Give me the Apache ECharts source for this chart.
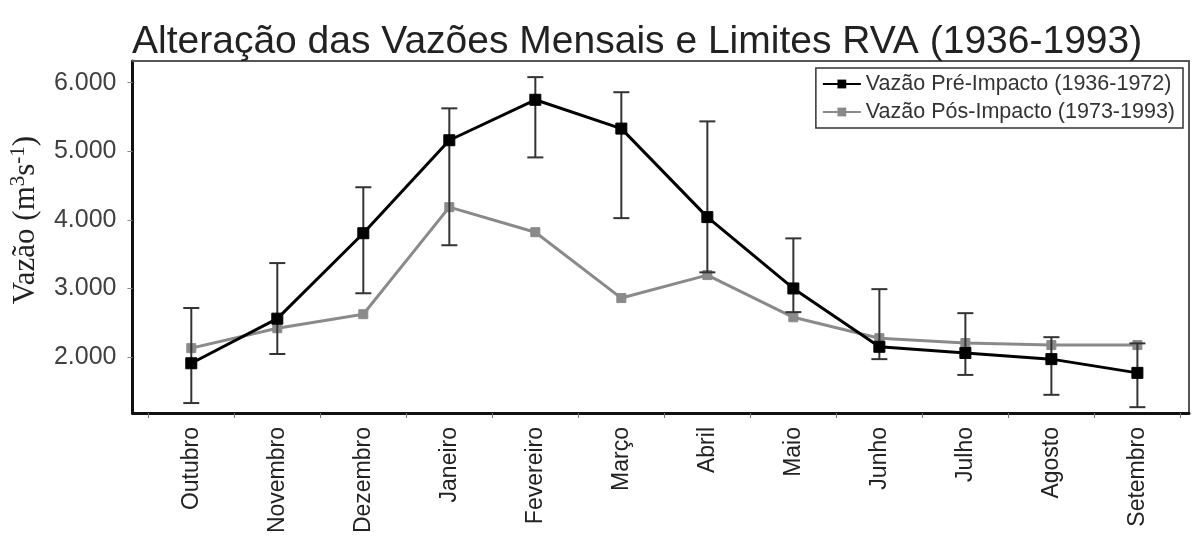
<!DOCTYPE html>
<html>
<head>
<meta charset="utf-8">
<script src="https://cdn.jsdelivr.net/npm/echarts@6/dist/echarts.min.js"></script>
<style>
html,body{margin:0;padding:0;background:#fff;}
#chart{width:1193px;height:540px;}
</style>
</head>
<body>
<div id="chart"></div>
<script>
const months = ['Outubro','Novembro','Dezembro','Janeiro','Fevereiro','Março','Abril','Maio','Junho','Julho','Agosto','Setembro'];
const preImpacto = [1910, 2560, 3805, 5160, 5750, 5330, 4040, 3000, 2150, 2060, 1970, 1770];
const posImpacto = [2130, 2420, 2625, 4185, 3820, 2860, 3195, 2580, 2275, 2205, 2175, 2175];
const limiteSuperior = [2715, 3370, 4475, 5625, 6080, 5860, 5435, 3730, 2990, 2640, 2290, 2200];
const limiteInferior = [1330, 2045, 2930, 3630, 4910, 4025, 3235, 2655, 1970, 1740, 1450, 1270];
const yTicks = [2000, 3000, 4000, 5000, 6000];

const monthIdx = months.map((m, i) => i);
const catTicks = months.map((m, i) => i - 0.5).concat([months.length - 0.5]);

const chart = echarts.init(document.getElementById('chart'));
const font = 'Arial, "Liberation Sans", Helvetica, sans-serif';
const serif = '"Liberation Serif", "Times New Roman", serif';

chart.setOption({
  animation: false,
  backgroundColor: '#fff',
  title: {
    text: 'Alteração das Vazões Mensais e Limites RVA (1936-1993)',
    left: 127, top: 18,
    textStyle: { fontFamily: font, fontSize: 39, fontWeight: 'normal', color: '#222' }
  },
  legend: {
    orient: 'vertical',
    right: 10, top: 68,
    backgroundColor: '#fff',
    borderColor: '#333', borderWidth: 1.5,
    padding: [5, 8, 5, 6],
    itemGap: 6,
    itemWidth: 38, itemHeight: 11,
    textStyle: { fontFamily: font, fontSize: 21.5, color: '#333' },
    data: ['Vazão Pré-Impacto (1936-1972)', 'Vazão Pós-Impacto (1973-1993)']
  },
  grid: { left: 130, right: 4, top: 61, bottom: 127 },
  xAxis: [{
    type: 'value',
    min: -0.684, max: 11.6,
    axisLine: { show: true, onZero: false, lineStyle: { color: '#111', width: 3 } },
    splitLine: { show: false },
    axisTick: { show: true, length: 5, customValues: catTicks, lineStyle: { color: '#777', width: 1 } },
    axisLabel: {
      customValues: monthIdx,
      rotate: 90,
      margin: 14,
      fontFamily: font, fontSize: 23, color: '#222',
      formatter: v => months[Math.round(v)]
    }
  }, {
    type: 'value', position: 'top',
    min: -0.684, max: 11.6,
    axisLine: { show: true, onZero: false, lineStyle: { color: '#555', width: 2 } },
    axisTick: { show: false }, axisLabel: { show: false }, splitLine: { show: false }
  }],
  yAxis: [{
    type: 'value',
    min: 1185, max: 6315,
    name: '{a|Vazão (m}{s|3}{a|s}{s|-1}{a|)}',
    nameLocation: 'middle',
    nameGap: 86,
    nameTextStyle: {
      padding: [0, 0, 0, 34],
      rich: {
        a: { fontFamily: serif, fontSize: 31, color: '#222', lineHeight: 38 },
        s: { fontFamily: serif, fontSize: 21, color: '#222', lineHeight: 38, padding: [0, 0, 14, 0] }
      }
    },
    axisLine: { show: true, onZero: false, lineStyle: { color: '#111', width: 3 } },
    splitLine: { show: false },
    axisTick: { show: true, length: 5, customValues: yTicks, lineStyle: { color: '#888', width: 1 } },
    axisLabel: {
      customValues: yTicks,
      margin: 16,
      fontFamily: font, fontSize: 25, color: '#404040',
      formatter: v => (v / 1000) + '.000'
    }
  }, {
    type: 'value', position: 'right',
    min: 1185, max: 6315,
    axisLine: { show: true, onZero: false, lineStyle: { color: '#555', width: 2 } },
    axisTick: { show: false }, axisLabel: { show: false }, splitLine: { show: false }
  }],
  series: [{
    name: 'Vazão Pós-Impacto (1973-1993)',
    type: 'line',
    data: posImpacto.map((v, i) => [i, v]),
    symbol: 'rect', symbolSize: 9,
    lineStyle: { color: '#8a8a8a', width: 3 },
    itemStyle: { color: '#8a8a8a', borderColor: '#8a8a8a' },
    z: 2
  }, {
    name: 'Limites RVA',
    type: 'custom',
    data: limiteSuperior.map((v, i) => [i, v, limiteInferior[i]]),
    renderItem: function (params, api) {
      const top = api.coord([api.value(0), api.value(1)]);
      const bot = api.coord([api.value(0), api.value(2)]);
      const hw = 8;
      const style = { stroke: '#333', lineWidth: 2 };
      return {
        type: 'group',
        children: [
          { type: 'line', shape: { x1: top[0], y1: top[1], x2: bot[0], y2: bot[1] }, style: style },
          { type: 'line', shape: { x1: top[0] - hw, y1: top[1], x2: top[0] + hw, y2: top[1] }, style: style },
          { type: 'line', shape: { x1: bot[0] - hw, y1: bot[1], x2: bot[0] + hw, y2: bot[1] }, style: style }
        ]
      };
    },
    z: 3
  }, {
    name: 'Vazão Pré-Impacto (1936-1972)',
    type: 'line',
    data: preImpacto.map((v, i) => [i, v]),
    symbol: 'rect', symbolSize: 11,
    lineStyle: { color: '#000', width: 3 },
    itemStyle: { color: '#000', borderColor: '#000' },
    z: 4
  }]
});
</script>
</body>
</html>
